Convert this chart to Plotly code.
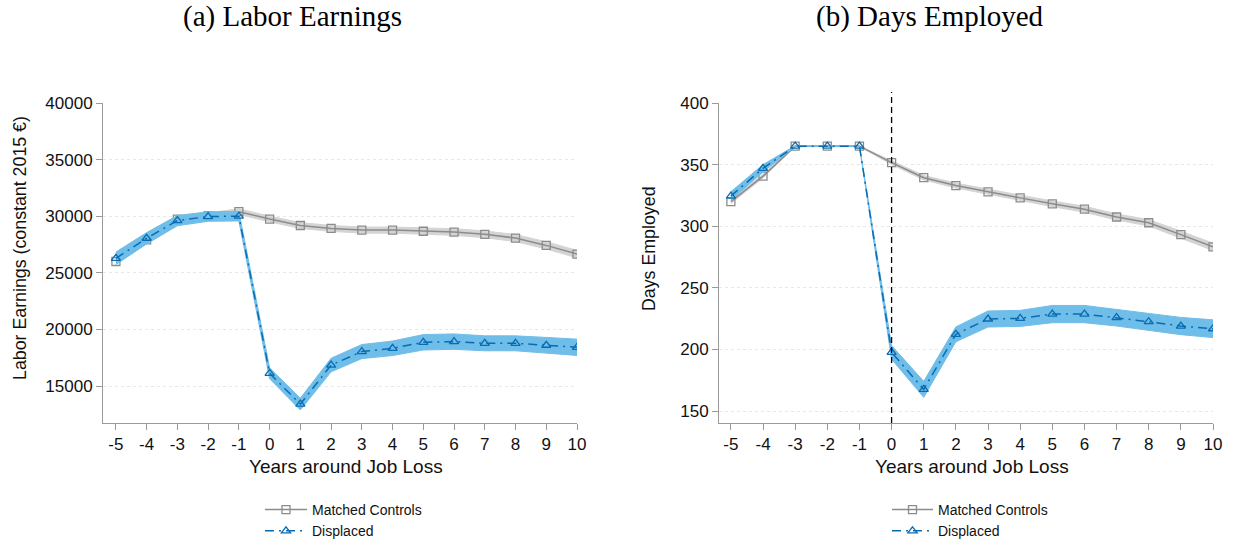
import plotly.graph_objects as go

years = [-5, -4, -3, -2, -1, 0, 1, 2, 3, 4, 5, 6, 7, 8, 9, 10]
year_labels = ["-5", "-4", "-3", "-2", "-1", "0", "1", "2", "3", "4", "5", "6", "7", "8", "9", "10"]

# (a) Labor earnings
earn_ctrl = [26000, 27900, 29750, 30050, 30400, 29750, 29180, 28920, 28770, 28770, 28670, 28600, 28400, 28070, 27420, 26650]
earn_ctrl_ci = [250, 250, 250, 250, 250, 250, 260, 260, 270, 270, 280, 290, 300, 310, 320, 330]
earn_disp = [26280, 28050, 29610, 29970, 30000, 16120, 13400, 16850, 18040, 18330, 18860, 18920, 18770, 18770, 18600, 18420]
earn_disp_ci = [550, 500, 450, 420, 420, 480, 520, 600, 620, 640, 680, 680, 660, 660, 690, 720]

# (b) Days employed
days_ctrl = [320, 340.7, 365, 365, 365, 351.6, 339.4, 333, 327.8, 323, 318.2, 313.8, 307.5, 302.8, 293.2, 283.3]
days_ctrl_ci = [1.5, 1.5, 0.3, 0.3, 0.3, 1.5, 1.8, 2.0, 2.1, 2.2, 2.3, 2.4, 2.5, 2.6, 2.8, 3.0]
days_disp = [324.5, 347, 365, 365, 365, 197.6, 167.6, 212.3, 224.7, 225.2, 228.7, 228.7, 225.8, 222.5, 219, 216.8]
days_disp_ci = [3.5, 3.0, 0.4, 0.4, 0.4, 5.5, 6.5, 6.0, 6.5, 6.5, 7.0, 7.0, 6.8, 6.8, 7.0, 7.2]

earn_ticks = [15000, 20000, 25000, 30000, 35000, 40000]
days_ticks = [150, 200, 250, 300, 350, 400]

titles = ["(a) Labor Earnings", "(b) Days Employed"]
ytitles = ["Labor Earnings (constant 2015 €)", "Days Employed"]
xtitle = "Years around Job Loss"
names = ["Matched Controls", "Displaced"]

CTRL_LINE = "#8c8c8c"
CTRL_BAND = "#d4d4d4"
DISP_LINE = "#0a6cb0"
DISP_BAND = "#6fbde9"
FONT = "Liberation Sans, Arial, sans-serif"
TXT = "#111111"

fig = go.Figure()


def add_panel(ax, vals_c, ci_c, vals_d, ci_d, legend):
    xa = "x" if ax == 1 else "x2"
    ya = "y" if ax == 1 else "y2"
    for vals, ci, band, line, name, sym, dash in [
        (vals_c, ci_c, CTRL_BAND, CTRL_LINE, names[0], "square-open", "solid"),
        (vals_d, ci_d, DISP_BAND, DISP_LINE, names[1], "triangle-up-open", "9px,5px,2px,5px"),
    ]:
        up = [v + c for v, c in zip(vals, ci)]
        lo = [v - c for v, c in zip(vals, ci)]
        fig.add_trace(go.Scatter(
            x=years + years[::-1], y=up + lo[::-1], fill="toself",
            fillcolor=band, line=dict(color=band, width=1), mode="lines",
            hoverinfo="skip", showlegend=False, xaxis=xa, yaxis=ya))
        fig.add_trace(go.Scatter(
            x=years, y=vals, mode="lines+markers", name=name,
            line=dict(color=line, width=1.5, dash=dash),
            marker=dict(symbol=sym, size=8, color=line, line=dict(width=1.3, color=line)),
            legend=legend, xaxis=xa, yaxis=ya))


add_panel(1, earn_ctrl, earn_ctrl_ci, earn_disp, earn_disp_ci, "legend")
add_panel(2, days_ctrl, days_ctrl_ci, days_disp, days_disp_ci, "legend2")

W, H = 1233, 544
ybot, ytop = (H - 423) / H, (H - 103) / H

axis_common = dict(
    showline=True, linecolor="#9a9a9a", linewidth=1,
    ticks="outside", ticklen=6, tickcolor="#9a9a9a", tickwidth=1,
    tickfont=dict(family=FONT, size=17, color=TXT),
    zeroline=False, automargin=False,
)
grid = dict(showgrid=True, gridcolor="#e8e8e8", griddash="dot", gridwidth=1)
legfont = dict(family=FONT, size=14, color=TXT)

fig.update_layout(
    template="none",
    width=W, height=H,
    margin=dict(l=0, r=0, t=0, b=0, pad=0, autoexpand=False),
    paper_bgcolor="white", plot_bgcolor="white",
    font=dict(family=FONT, color=TXT),
    xaxis=dict(domain=[103 / W, 577 / W], range=[-5.42, 10], tickmode="array", tickvals=years,
               ticktext=year_labels, showgrid=False, anchor="y", **axis_common),
    yaxis=dict(domain=[ybot, ytop], range=[11731, 40000], tickmode="array", tickvals=earn_ticks,
               ticktext=[str(v) for v in earn_ticks], anchor="x", **grid, **axis_common),
    xaxis2=dict(domain=[719 / W, 1213 / W], range=[-5.37, 10], tickmode="array", tickvals=years,
                ticktext=year_labels, showgrid=False, anchor="y2", **axis_common),
    yaxis2=dict(domain=[ybot, ytop], range=[140.3, 400], tickmode="array", tickvals=days_ticks,
                ticktext=[str(v) for v in days_ticks], anchor="x2", **grid, **axis_common),
    legend=dict(x=260 / W, y=1 - 494 / H, xanchor="left", yanchor="top", font=legfont,
                bgcolor="rgba(0,0,0,0)", tracegroupgap=0, itemwidth=42),
    legend2=dict(x=887 / W, y=1 - 494 / H, xanchor="left", yanchor="top", font=legfont,
                 bgcolor="rgba(0,0,0,0)", tracegroupgap=0, itemwidth=41),
    showlegend=True,
)

# vertical reference line at job loss in panel (b)
fig.add_shape(type="line", xref="x2", yref="y2 domain", x0=0, x1=0, y0=0, y1=1.034,
              line=dict(color="black", width=1.3, dash="6px,4px"))

# panel titles
for xc, t in zip([292, 930], titles):
    fig.add_annotation(x=xc / W, y=1 - 16 / H, xref="paper", yref="paper", text=t, showarrow=False,
                       font=dict(family="Liberation Serif, Times New Roman, serif", size=29, color="black"),
                       xanchor="center", yanchor="middle")

# y axis titles
for xc, t in zip([20, 649], ytitles):
    fig.add_annotation(x=xc / W, y=1 - 248 / H, xref="paper", yref="paper", text=t, showarrow=False,
                       textangle=-90, font=dict(family=FONT, size=17.8, color=TXT),
                       xanchor="center", yanchor="middle")

# x axis titles
for xc in [346, 972]:
    fig.add_annotation(x=xc / W, y=1 - 466 / H, xref="paper", yref="paper", text=xtitle, showarrow=False,
                       font=dict(family=FONT, size=19, color=TXT), xanchor="center", yanchor="middle")

fig.write_html("out.html", post_script="document.body.style.margin='0';document.body.style.overflow='hidden';")
